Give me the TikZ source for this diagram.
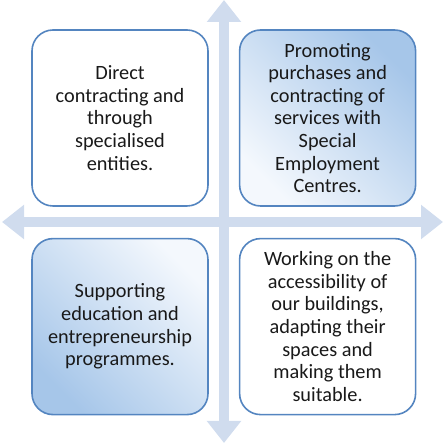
\documentclass[tikz,border=0pt]{standalone}
\usepackage{fontspec}
\setmainfont{Carlito}
\usetikzlibrary{positioning,arrows.meta}
\definecolor{crossblue}{RGB}{208,220,238}
\definecolor{edgeblue}{RGB}{84,133,192}
\definecolor{fillblue}{RGB}{166,198,233}
\definecolor{paleblue}{RGB}{244,248,253}

\begin{document}
\begin{tikzpicture}[
x=1pt, y=1pt,
node distance=30pt,
quad/.style={draw=edgeblue, line width=1.6pt, rounded corners=21pt, minimum width=176pt, minimum height=176pt, align=center, font=\fontsize{20.3}{22.6}\selectfont, text=black!90},
whitequad/.style={quad, fill=white},
bluequad/.style={quad, top color=fillblue, bottom color=paleblue, shading angle=#1},
cross/.style={{Triangle[width=33pt,length=22pt]}-{Triangle[width=33pt,length=22pt]}, line width=10pt, crossblue}
]
\useasboundingbox (0,0) rectangle (443,443);
\coordinate (up) at (224,443);
\coordinate (down) at (224,0);
\coordinate (west) at (2,221);
\coordinate (east) at (443,221);
\draw[cross] (down) -- (up);
\draw[cross] (west) -- (east);
\node[whitequad] (direct) at (120,325) {Direct\\contracting and\\through\\specialised\\entities.};
\node[bluequad=-45, right=of direct] (promote) {Promoting\\purchases and\\contracting of\\services with\\Special\\Employment\\Centres.};
\node[bluequad=135, below=31pt of direct] (support) {Supporting\\education and\\entrepreneurship\\programmes.};
\node[whitequad, right=of support] (access) {Working on the\\accessibility of\\our buildings,\\adapting their\\spaces and\\making them\\suitable.};
\end{tikzpicture}
\end{document}
